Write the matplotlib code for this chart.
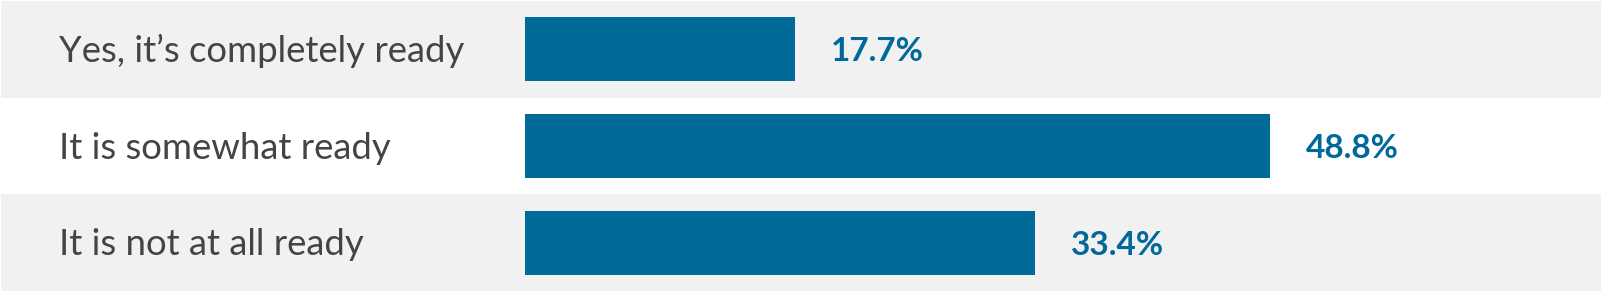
import numpy as np
import matplotlib.pyplot as plt

categories = ['Yes, it\u2019s completely ready', 'It is somewhat ready', 'It is not at all ready']
values = [17.7, 48.8, 33.4]
value_labels = ['17.7%', '48.8%', '33.4%']

W, H = 1601, 292
bar_x0 = 525          # pixel where bars start
px_per_pct = 15.26

fig = plt.figure(figsize=(W / 100, H / 100), dpi=100)
ax = fig.add_axes([0, 0, 1, 1])
ax.set_xlim(-bar_x0 / px_per_pct, (W - bar_x0) / px_per_pct)
ax.set_ylim(2.51, -0.51)
ax.axis('off')

band_colors = ['#f1f1f1', '#ffffff', '#f1f1f1']
y = np.arange(len(categories))
for i in y:
    ax.axhspan(i - 0.5, i + 0.5, xmin=1 / W, xmax=1, color=band_colors[i], lw=0, zorder=0)

ax.barh(y, values, height=0.66, left=0, color='#006a99', zorder=2)

for i, (cat, v, lab) in enumerate(zip(categories, values, value_labels)):
    ax.text(59 / W, i + 0.13, cat, transform=ax.get_yaxis_transform(),
            fontsize=26.3, family='Lato', color='#444444', va='baseline', ha='left')
    ax.annotate(lab, (v, i + 0.124), xytext=(36, 0), textcoords='offset pixels',
                fontsize=24, family='Lato', fontweight='bold', color='#00699a',
                va='baseline', ha='left')

fig.savefig('out.png', dpi=100)
